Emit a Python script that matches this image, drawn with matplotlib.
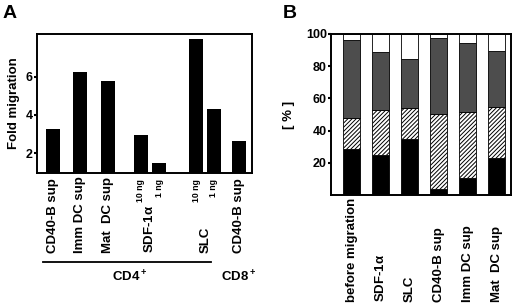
import matplotlib
matplotlib.use("Agg")
import matplotlib.pyplot as plt
from matplotlib.transforms import blended_transform_factory
from matplotlib.lines import Line2D

plt.rcParams['font.family'] = ['Liberation Sans', 'DejaVu Sans']
plt.rcParams['font.weight'] = 'bold'
plt.rcParams['mathtext.fontset'] = 'custom'
plt.rcParams['mathtext.rm'] = 'Liberation Sans:bold'
plt.rcParams['mathtext.it'] = 'Liberation Sans'
plt.rcParams['hatch.linewidth'] = 0.7

# Panel A data: fold migration
a_pos = [0, 0.98, 2.02, 3.24, 3.91, 5.28, 5.93, 6.87]
a_fold = [3.26, 6.26, 5.79, 2.95, 1.46, 8.0, 4.32, 2.63]
a_labels = ["CD40-B sup", "Imm DC sup", "Mat  DC sup", r"SDF-1$\alpha$", "SLC", "CD40-B sup"]
a_label_pos = [0, 0.98, 2.02, 3.55, 5.65, 6.87]
a_doses = ["10 ng", "1 ng", "10 ng", "1 ng"]
a_dose_pos = [3.24, 3.91, 5.28, 5.93]

# Panel B data: stacked percentages
b_labels = ["before migration", r"SDF-1$\alpha$", "SLC", "CD40-B sup", "Imm DC sup", "Mat  DC sup"]
b_black = [28.4, 24.8, 34.6, 3.7, 10.3, 22.8]
b_hatch = [19.4, 28.0, 19.4, 46.8, 41.2, 31.7]
b_gray = [48.2, 36.2, 30.3, 47.2, 43.1, 34.7]
b_white = [100 - k - h - g for k, h, g in zip(b_black, b_hatch, b_gray)]

W, H = 520, 305
fig = plt.figure(figsize=(W / 100, H / 100), dpi=100)

def fy(py):
    return 1 - py / H

def fx(px):
    return px / W

def style(ax):
    for s in ax.spines.values():
        s.set_linewidth(1.4)
    ax.tick_params(axis='y', direction='out', length=2, width=1.5, labelsize=9, pad=1)
    ax.tick_params(axis='x', bottom=False, labelbottom=False)

# ---------- Panel A ----------
axA = fig.add_axes([fx(37), fy(173), fx(252) - fx(37), fy(34) - fy(173)])
axA.bar(a_pos, a_fold, width=0.52, color='black', bottom=0)
axA.set_xlim(-0.61, 7.35)
axA.set_ylim(0.95, 8.25)
axA.set_yticks([2, 4, 6])
axA.set_ylabel("Fold migration", fontsize=9.5, fontweight='bold', labelpad=4)
style(axA)

trA = blended_transform_factory(axA.transData, fig.transFigure)
for x, lab in zip(a_label_pos, a_labels):
    axA.text(x, fy(253), lab, transform=trA, rotation=90, ha='center', va='bottom',
             fontsize=9.5, fontweight='bold')
for x, lab in zip(a_dose_pos, a_doses):
    axA.text(x, fy(179), lab, transform=trA, rotation=90, ha='center', va='top',
             fontsize=6.3, fontweight='bold')
axA.add_line(Line2D([-0.39, 5.83], [fy(262), fy(262)], transform=trA, color='black',
                    linewidth=1.3, clip_on=False))
axA.text(2.83, fy(277), "CD4$^+$", transform=trA, ha='center', va='center', fontsize=9.5)
axA.text(6.87, fy(277), "CD8$^+$", transform=trA, ha='center', va='center', fontsize=9.5)
fig.text(fx(3), fy(13), "A", fontsize=14, fontweight='bold', va='center', ha='left')

# ---------- Panel B ----------
axB = fig.add_axes([fx(331), fy(195), fx(511) - fx(331), fy(34) - fy(195)])
bx = list(range(len(b_labels)))
bw = 0.59
axB.bar(bx, b_black, width=bw, color='black', edgecolor='black', linewidth=0.6)
bot = b_black
axB.bar(bx, b_hatch, width=bw, bottom=bot, color='white', edgecolor='black',
        hatch='////////', linewidth=0.6)
bot = [a + b for a, b in zip(bot, b_hatch)]
axB.bar(bx, b_gray, width=bw, bottom=bot, color='#4d4d4d', edgecolor='black', linewidth=0.6)
bot = [a + b for a, b in zip(bot, b_gray)]
axB.bar(bx, b_white, width=bw, bottom=bot, color='white', edgecolor='black', linewidth=0.6)
axB.set_xlim(-0.72, 5.5)
axB.set_ylim(0, 100)
axB.set_yticks([20, 40, 60, 80, 100])
style(axB)
fig.text(fx(289), fy(115), "[ % ]", rotation=90, ha='center', va='center',
         fontsize=9.5, fontweight='bold')

trB = blended_transform_factory(axB.transData, fig.transFigure)
for x, lab in zip(bx, b_labels):
    axB.text(x, fy(302), lab, transform=trB, rotation=90, ha='center', va='bottom',
             fontsize=9.5, fontweight='bold')
fig.text(fx(283), fy(13), "B", fontsize=14, fontweight='bold', va='center', ha='left')

fig.savefig("out.png", dpi=100)
